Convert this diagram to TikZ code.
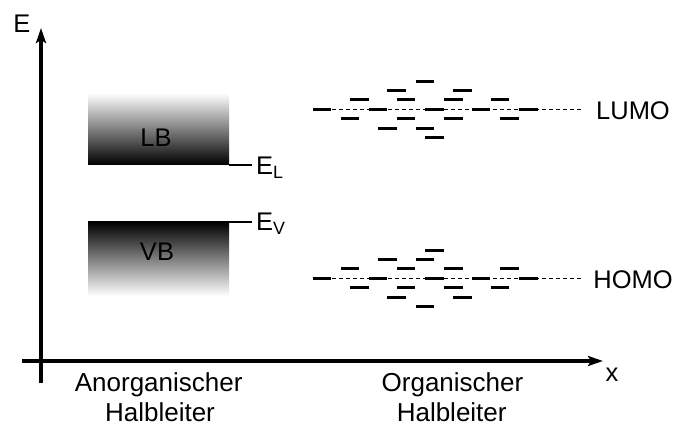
\documentclass[tikz,border=0pt]{standalone}
\usepackage{fontspec}
\setmainfont{Liberation Sans}
\usetikzlibrary{arrows.meta}

\tikzset{
  axisline/.style={line width=3.5pt, -{Stealth[length=15pt,width=10pt,inset=3pt]}},
  lbl/.style={font=\fontsize{25.5}{30}\selectfont, inner sep=0pt, anchor=base},
  captxt/.style={font=\fontsize{26}{30}\selectfont, inner sep=0pt, anchor=base},
  band/.style={minimum width=141pt, inner sep=0pt, outer sep=0pt},
  bandedge/.style={line width=1.1pt},
  lvl/.style={line width=3pt},
  guide/.style={line width=1pt, dash pattern=on 3.5pt off 3.5pt}
}

% one cluster of molecular levels: #1 = centre height, #2 = +1 (spread like LUMO) or -1 (mirrored)
\newcommand\levelcluster[2]{%
  \foreach \xx/\rr in {425/-3,
      396.7/-2, 462.5/-2,
      359.3/-1, 406/-1, 453.3/-1, 500/-1,
      322/0, 378/0, 434.5/0, 481/0, 528.3/0,
      350/1, 406/1, 453.3/1, 509.3/1,
      387.3/2, 425/2,
      434.5/3}
    \draw[lvl] ({\xx-9.35}, {#1+#2*\rr*9.43}) -- ++(18.7,0);%
}

\begin{document}
\begin{tikzpicture}[x=1pt, y=-1pt]
\useasboundingbox (0,0) rectangle (678,425);

% axes
\coordinate (yfoot) at (41,383);
\coordinate (ytip) at (41,28);
\coordinate (xfoot) at (22,361);
\coordinate (xtip) at (603,361);
\draw[axisline] (yfoot) -- (ytip);
\draw[axisline] (xfoot) -- (xtip);
\node[lbl] (elab) at (22,33) {E};
\node[lbl] (xlab) at (612,381.7) {x};

% inorganic semiconductor: conduction and valence bands
\node[band, minimum height=72pt, top color=white, bottom color=black] (lb) at (158.5,129) {};
\node[band, minimum height=74pt, top color=black, bottom color=white] (vb) at (158.5,259) {};
\node[lbl] (lbtxt) at (156,146.7) {LB};
\node[lbl] (vbtxt) at (157,260) {VB};

\coordinate (elend) at (252,165);
\coordinate (evend) at (252,222);
\draw[bandedge] (lb.south east) -- (elend);
\draw[bandedge] (vb.north east) -- (evend);
\node[lbl, anchor=base west] (el) at (256,175) {E\textsubscript{L}};
\node[lbl, anchor=base west] (ev) at (256,231) {E\textsubscript{V}};

% organic semiconductor: LUMO and HOMO level clusters
\coordinate (lumoA) at (332,109.3);
\coordinate (lumoB) at (583,109.3);
\coordinate (homoA) at (332,278.3);
\coordinate (homoB) at (583,278.3);
\draw[guide] (lumoA) -- (lumoB);
\draw[guide] (homoA) -- (homoB);
\levelcluster{109.3}{1}
\levelcluster{278.3}{-1}
\node[lbl] (lumo) at (633,119.3) {LUMO};
\node[lbl] (homo) at (633,288.3) {HOMO};

% captions
\node[captxt] (inorg1) at (158.7,391.7) {Anorganischer};
\node[captxt] (inorg2) at (160,421) {Halbleiter};
\node[captxt] (org1) at (452.5,391.7) {Organischer};
\node[captxt] (org2) at (451.7,421) {Halbleiter};
\end{tikzpicture}
\end{document}
